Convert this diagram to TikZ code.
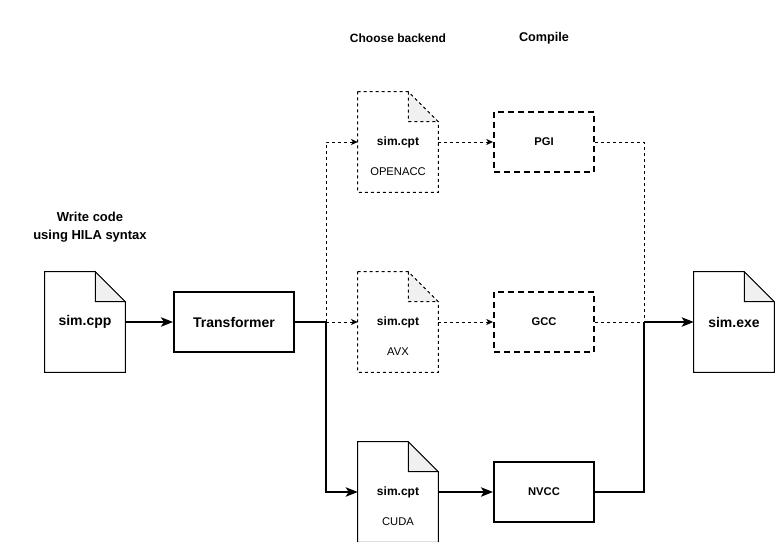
\documentclass[tikz,border=0pt]{standalone}
\usepackage{fontspec}
\setmainfont{Liberation Sans}
\usepackage{xcolor}
\usetikzlibrary{arrows.meta,calc,positioning}

\definecolor{foldgray}{HTML}{F0F0F0}

\tikzset{
    doc/.style={minimum width=60pt,minimum height=75pt,inner sep=0pt},
    docbig/.style={doc,font=\bfseries\fontsize{10.5}{12}\selectfont},
    docsmall/.style={doc,font=\bfseries\fontsize{9}{11}\selectfont},
    subtxt/.style={inner sep=0pt,font=\fontsize{8.4}{10}\selectfont},
    heading/.style={align=center,font=\bfseries\fontsize{9}{13.5}\selectfont},
    tool/.style={draw,line width=1.5pt,minimum width=75pt,minimum height=45pt,inner sep=0pt,font=\bfseries\fontsize{8.4}{10}\selectfont},
    tooldash/.style={tool,dash pattern=on 4.5pt off 3pt},
    thin/.style={line width=0.75pt,dash pattern=on 2.25pt off 2.25pt},
    solidflow/.style={line width=1.5pt},
    solidarrow/.style={solidflow,-{Stealth[length=9pt,width=7pt,inset=2.2pt]}},
    thinarrow/.style={thin,-{Stealth[length=5pt,width=4.5pt,inset=1.3pt]}},
}

% document outline with folded corner
\newcommand{\docoutline}[2][]{%
    \draw[line width=0.75pt,#1] (#2.north west) -- ($(#2.north east)+(-30,0)$) -- ($(#2.north east)+(0,30)$) -- (#2.south east) -- (#2.south west) -- cycle;
    \filldraw[line width=0.75pt,fill=foldgray,#1] ($(#2.north east)+(-30,0)$) -- ($(#2.north east)+(-30,30)$) -- ($(#2.north east)+(0,30)$) -- cycle;
}

\begin{document}
\begin{tikzpicture}[x=0.75pt,y=-0.75pt]
    \useasboundingbox (0,0) rectangle (775,542);

    % headings
    \node[heading,font=\bfseries\fontsize{9.75}{13.5}\selectfont] (hwrite) at (90,227) {Write code\\using HILA syntax};
    \node[heading] (hchoose) at (398,38) {Choose backend};
    \node[heading,font=\bfseries\fontsize{9.5}{13.5}\selectfont] (hcompile) at (544,38) {Compile};

    % files
    \node[docbig] (cpp) at (85,322) {sim.cpp};
    \node[docsmall] (openacc) at (398,142) {sim.cpt};
    \node[docsmall] (avx) at (398,322) {sim.cpt};
    \node[docsmall] (cuda) at (398,492) {sim.cpt};
    \node[docbig] (exe) at (734,322) {sim.exe};
    \node[subtxt] (openaccsub) at (398,172) {OPENACC};
    \node[subtxt] (avxsub) at (398,352) {AVX};
    \node[subtxt] (cudasub) at (398,522) {CUDA};
    \docoutline{cpp}
    \docoutline[thin]{openacc}
    \docoutline[thin]{avx}
    \docoutline{cuda}
    \docoutline{exe}

    % tools
    \node[tool,minimum width=90pt,font=\bfseries\fontsize{10.5}{12}\selectfont] (trans) at (234,322) {Transformer};
    \node[tooldash] (pgi) at (544,142) {PGI};
    \node[tooldash] (gcc) at (544,322) {GCC};
    \node[tool] (nvcc) at (544,492) {NVCC};

    \coordinate (split) at (326,322);
    \coordinate (join) at (644,322);

    % connectors
    \draw[solidarrow] (cpp) -- (trans);
    \draw[solidflow] (trans) -- (split);
    \draw[solidarrow] (split) |- (cuda);
    \draw[thinarrow] (split) |- (openacc);
    \draw[thinarrow] (split) -- (avx);
    \draw[thinarrow] (openacc) -- (pgi);
    \draw[thinarrow] (avx) -- (gcc);
    \draw[solidarrow] (cuda) -- (nvcc);
    \draw[thin] (pgi) -| (join);
    \draw[thin] (gcc) -- (join);
    \draw[solidflow] (nvcc) -| (join);
    \draw[solidarrow] (join) -- (exe);
\end{tikzpicture}
\end{document}
